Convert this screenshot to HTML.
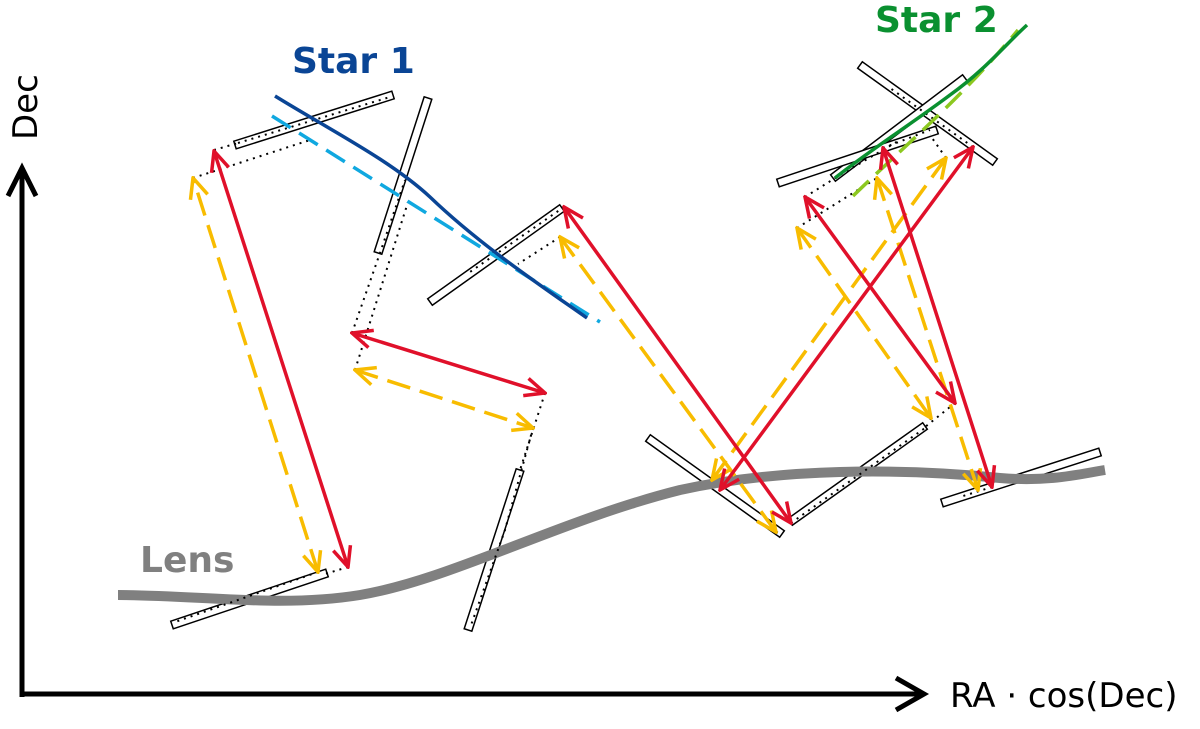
<!DOCTYPE html>
<html><head><meta charset="utf-8"><style>
html,body{margin:0;padding:0;background:#fff;}
svg{display:block}
text{font-family:"DejaVu Sans","Liberation Sans",sans-serif}
</style></head><body>
<svg id="s" width="1200" height="729" viewBox="0 0 1200 729" xmlns="http://www.w3.org/2000/svg">
<defs>
<marker id="mr" viewBox="0 0 24 24" refX="22" refY="12" markerWidth="24" markerHeight="24" markerUnits="userSpaceOnUse" orient="auto-start-reverse"><path d="M2,3 L22,12 L2,21" fill="none" stroke="#e0102a" stroke-width="3.5"/></marker>
<marker id="my" viewBox="0 0 24 24" refX="22" refY="12" markerWidth="24" markerHeight="24" markerUnits="userSpaceOnUse" orient="auto-start-reverse"><path d="M2,3 L22,12 L2,21" fill="none" stroke="#f8bc00" stroke-width="3.5"/></marker>
</defs>
<g id="slits"></g>
<!-- lens -->
<path d="M118,595 C200,595 280,608 360,595 C450,580 560,520 680,490 C780,468 900,468 1000,478 C1050,482 1080,474 1105,470" fill="none" stroke="#808080" stroke-width="10"/>
<g fill="none" stroke="#000" stroke-width="2" stroke-dasharray="2,5">
<path d="M193,178 L310,140"/><path d="M214,150 L238,143"/><path d="M238,143 L390,97"/>
<path d="M352,333 L380,253 L405,180"/><path d="M355,370 L408,202"/>
<path d="M560,237 L518,264"/><path d="M564,207 L470,272"/>
<path d="M545,393 L520,470"/><path d="M533,428 L505,530 L470,628"/>
<path d="M348,567 L325,574"/><path d="M318,572 L175,622"/>
<path d="M791,523 L925,428"/><path d="M776,532 L782,534"/>
<path d="M955,403 L925,427"/><path d="M931,418 L928,422"/>
<path d="M992,487 L960,497"/>
<path d="M805,197 L840,175 L900,140"/><path d="M797,228 L877,178"/><path d="M883,148 L930,130"/><path d="M946,158 L930,135"/><path d="M973,147 L890,88"/>
</g>
<!-- stars -->
<path d="M272,116 L600,322" fill="none" stroke="#10a8e0" stroke-width="3.5" stroke-dasharray="22,10"/>
<path d="M275,96 C330,130 390,160 430,197 C480,245 540,285 587,318" fill="none" stroke="#0a4595" stroke-width="3.5"/>
<path d="M853,196 C900,150 960,100 1018,30" fill="none" stroke="#8cc820" stroke-width="3.5" stroke-dasharray="22,10"/>
<path d="M835,178 C870,150 910,125 950,95 C985,70 1005,45 1027,25" fill="none" stroke="#0a9030" stroke-width="3.5"/>
<!-- arrows -->
<g fill="none" stroke-width="3.5">
<g stroke="#f8bc00" stroke-dasharray="24,10" marker-start="url(#my)" marker-end="url(#my)">
<line x1="318" y1="572" x2="193" y2="178"/>
<line x1="355" y1="370" x2="533" y2="428"/>
<line x1="560" y1="237" x2="776" y2="532"/>
<line x1="712" y1="480" x2="946" y2="158"/>
<line x1="797" y1="228" x2="931" y2="418"/>
<line x1="877" y1="178" x2="978" y2="490"/>
</g>
<g stroke="#e0102a" marker-start="url(#mr)" marker-end="url(#mr)">
<line x1="348" y1="567" x2="214" y2="151"/>
<line x1="352" y1="333" x2="545" y2="393"/>
<line x1="564" y1="207" x2="791" y2="523"/>
<line x1="720" y1="490" x2="973" y2="147"/>
<line x1="805" y1="197" x2="955" y2="403"/>
<line x1="883" y1="148" x2="992" y2="487"/>
</g>
</g>
<!-- axes -->
<g fill="none" stroke="#000" stroke-width="5">
<path d="M22,697 L22,168"/><path d="M22,694 L922,694"/>
<path d="M8,196 L22,168 L36,196" stroke-linejoin="miter"/>
<path d="M896,678 L924,694 L896,710"/>
</g>
<text x="0" y="0" transform="translate(37,140) rotate(-90)" font-size="34">Dec</text>
<text x="950" y="707" font-size="34">RA · cos(Dec)</text>
<text x="292" y="73" font-size="36" font-weight="bold" fill="#0a4595">Star 1</text>
<text x="875" y="32" font-size="36" font-weight="bold" fill="#0a9030">Star 2</text>
<text x="140" y="572" font-size="36" font-weight="bold" fill="#808080">Lens</text>
</svg>
<script>
var S=[[235,145,393,95],[428,98,378,253],[430,302,562,208],[172,625,327,573],[468,630,520,470],[648,438,782,534],[790,522,925,426],[942,503,1100,452],[860,65,995,162],[833,178,965,78],[778,183,937,130]];
var g=document.getElementById('slits'),h='';
S.forEach(function(s){var dx=s[2]-s[0],dy=s[3]-s[1],L=Math.hypot(dx,dy),nx=-dy/L*4,ny=dx/L*4;
h+='<polygon points="'+(s[0]+nx)+','+(s[1]+ny)+' '+(s[2]+nx)+','+(s[3]+ny)+' '+(s[2]-nx)+','+(s[3]-ny)+' '+(s[0]-nx)+','+(s[1]-ny)+'" fill="#fff" stroke="#000" stroke-width="1.5"/>';});
g.innerHTML=h;
</script>
</body></html>
